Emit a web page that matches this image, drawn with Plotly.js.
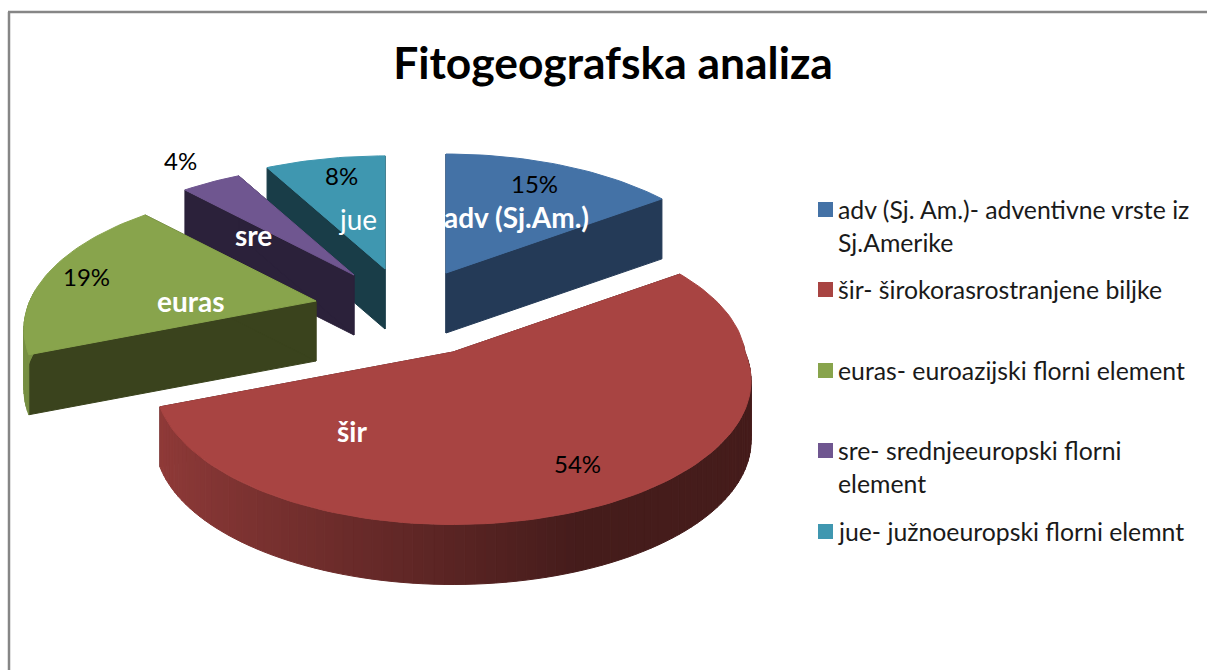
<!DOCTYPE html>
<html><head><meta charset="utf-8">
<script src="https://cdn.plot.ly/plotly-3.0.1.min.js"></script>
<style>html,body{margin:0;padding:0;background:#fff}#c{width:1207px;height:670px}</style>
</head><body><div id="c"></div>
<script>
// ---- data ----
const categories = ['adv (Sj.Am.)', 'šir', 'euras', 'sre', 'jue'];
const values = [15, 54, 19, 4, 8];
const legendLines = [
  ['adv (Sj. Am.)- adventivne vrste iz', 'Sj.Amerike'],
  ['šir- širokorasrostranjene biljke'],
  ['euras- euroazijski florni element'],
  ['sre- srednjeeuropski florni', 'element'],
  ['jue- južnoeuropski florni elemnt']
];
const chartTitle = 'Fitogeografska analiza';

// ---- style ----
const topColors = [[68,114,166],[168,68,66],[136,164,76],[111,86,144],[63,151,176]];
const wallColors = ['#243a57','#451b1a','#3a431d','#2b213a','#193d48'];
const FONT = 'Lato, Carlito, sans-serif';

// ---- layout of the exploded 3D pie ----
const apexX = [446, 453, 316, 354, 385];
const apexY = [273, 352, 301, 275, 269];
const radiusScale = [1, 1, 0.98, 1, 1];
const backPersp = [0.16, 0.07, 0.2, 0.25, 0.22];
const R = 292, RY = 138, PERSP = 0.2, DEPTH = 60;
const drawOrder = [4, 0, 3, 2, 1];
const catLabelPos = [[516, 217, 'bold'], [352, 431, 'bold'], [191, 301, 'bold'], [253, 235, 'bold'], [358, 219, 'normal']];
const pctLabelPos = [[534, 183], [577, 463], [86, 276], [180, 160], [341, 175]];
const legendTop = [202, 282, 363, 443, 524];

const total = values.reduce((a, b) => a + b, 0);
let acc = 0;
const spans = values.map(v => { const s = acc; acc += v; return [s / total * 2 * Math.PI, acc / total * 2 * Math.PI]; });

function project(i, th) {
  const X = Math.sin(th), Z = -Math.cos(th);
  const k = Z < 0 ? backPersp[i] : PERSP;
  const p = 1 / (1 - k * Z);
  return [apexX[i] + R * radiusScale[i] * X * p, apexY[i] + RY * radiusScale[i] * Z * p, X, Z];
}
function rgb(c, m) { return 'rgb(' + c.map(v => Math.round(v * m)).join(',') + ')'; }
function shade(X) { return X < 0.35 ? 0.88 - 0.47 * (X + 1) / 1.35 : 0.41; }
function poly(xs, ys, color, name) {
  return { type: 'scatter', mode: 'lines', x: xs, y: ys, fill: 'toself', fillcolor: color,
           line: { color: color, width: 1 }, hoverinfo: name ? 'name' : 'skip', name: name || '', showlegend: false };
}

const traces = [];
drawOrder.forEach(i => {
  const [a, b] = spans[i];
  const n = Math.max(8, Math.round((b - a) / (2 * Math.PI) * 220));
  const pts = [];
  for (let k = 0; k <= n; k++) pts.push(project(i, a + (b - a) * k / n));
  const ax = apexX[i], ay = apexY[i];
  // the two cut faces
  [pts[0], pts[n]].forEach(e => {
    traces.push(poly([ax, e[0], e[0], ax, ax], [ay, e[1], e[1] + DEPTH, ay + DEPTH, ay], wallColors[i]));
  });
  // outer rim: only the part that faces the viewer
  for (let k = 0; k < n; k++) {
    const p = pts[k], q = pts[k + 1];
    if (p[3] < -0.05 && q[3] < -0.05) continue;
    traces.push(poly([p[0], q[0], q[0], p[0], p[0]], [p[1], q[1], q[1] + DEPTH, p[1] + DEPTH, p[1]],
                     rgb(topColors[i], shade((p[2] + q[2]) / 2))));
  }
  // top face
  traces.push(poly([ax].concat(pts.map(p => p[0]), [ax]), [ay].concat(pts.map(p => p[1]), [ay]),
                   rgb(topColors[i], 1), categories[i]));
});

const annotations = [];
function label(text, x, y, size, color, weight, anchor) {
  annotations.push({ xref: 'x', yref: 'y', x: x, y: y, text: text, showarrow: false, xanchor: anchor || 'center', yanchor: 'middle',
    font: { family: FONT, size: size, color: color, weight: weight || 'normal' } });
}
categories.forEach((c, i) => label(c, catLabelPos[i][0], catLabelPos[i][1], 28, '#ffffff', catLabelPos[i][2]));
values.forEach((v, i) => label(v + '%', pctLabelPos[i][0], pctLabelPos[i][1], 24, '#000000'));
const shapes = [];
legendLines.forEach((lines, i) => {
  shapes.push({ type: 'rect', xref: 'x', yref: 'y', x0: 818, x1: 833, y0: legendTop[i], y1: legendTop[i] + 15,
                fillcolor: rgb(topColors[i], 1), line: { width: 0 } });
  lines.forEach((t, j) => label(t, 836, legendTop[i] + 7 + j * 33, 24.8, '#1a1a1a', 'normal', 'left'));
});
// outer chart frame
shapes.push({ type: 'line', xref: 'x', yref: 'y', x0: 9, x1: 9, y0: 12, y1: 670, line: { color: '#868686', width: 2.5 } });
shapes.push({ type: 'line', xref: 'x', yref: 'y', x0: 8, x1: 1207, y0: 12, y1: 12, line: { color: '#868686', width: 2.5 } });

Plotly.newPlot('c', traces, {
  width: 1207, height: 670, margin: { l: 0, r: 0, t: 0, b: 0 }, paper_bgcolor: '#fff', plot_bgcolor: '#fff',
  showlegend: false,
  title: { text: chartTitle, x: 613 / 1207, xanchor: 'center', y: 1 - 63 / 670, yanchor: 'middle', font: { family: FONT, size: 44.4, color: '#000', weight: 'bold' } },
  xaxis: { range: [0, 1207], visible: false, fixedrange: true },
  yaxis: { range: [670, 0], visible: false, fixedrange: true },
  shapes: shapes, annotations: annotations
}, { displayModeBar: false, staticPlot: true });
</script></body></html>
